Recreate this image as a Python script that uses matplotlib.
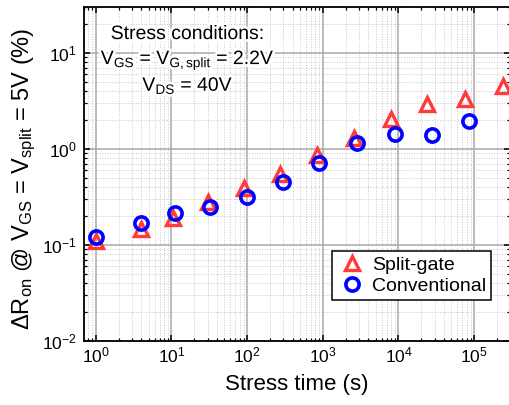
import matplotlib
matplotlib.use("Agg")
import matplotlib.pyplot as plt
import matplotlib.patheffects as pe
from matplotlib.ticker import LogLocator, NullFormatter

plt.rcParams['font.family'] = ['Liberation Sans', 'DejaVu Sans']
plt.rcParams['mathtext.fontset'] = 'custom'
plt.rcParams['mathtext.rm'] = 'Liberation Sans'
plt.rcParams['mathtext.it'] = 'Liberation Sans:italic'
plt.rcParams['mathtext.default'] = 'regular'

# Data
split_time = [1, 4, 10.5, 30, 90, 270, 850, 2600, 8000, 24000, 76000, 240000]
split_ron = [0.11, 0.147, 0.19, 0.28, 0.39, 0.55, 0.86, 1.31, 2.04, 2.92, 3.29, 4.53]
conv_time = [1, 4, 11, 32, 100, 300, 900, 2800, 9000, 28000, 85000]
conv_ron = [0.12, 0.17, 0.214, 0.25, 0.318, 0.45, 0.72, 1.14, 1.42, 1.39, 1.93]
series_labels = ["Split-gate", "Conventional"]
xlabel = "Stress time (s)"
ylabel = r"$\Delta$R$_{on}$ @ V$_{GS}$ = V$_{split}$ = 5V (%)"
note_lines = ["Stress conditions:", r"V$_{GS}$ = V$_{G,split}$ = 2.2V", r"V$_{DS}$ = 40V"]

W, H = 509, 405
fig = plt.figure(figsize=(W / 100, H / 100), dpi=100)
ax = fig.add_axes([84 / W, (405 - 341) / H, (510.3 - 84) / W, (341 - 7) / H])
ax.set_xscale('log')
ax.set_yscale('log')
ax.set_xlim(0.7, 3e5)
ax.set_ylim(0.01, 30)

red = '#ff3a3a'
blue = '#0000ff'
ax.plot(split_time, split_ron, linestyle='none', marker='^', markersize=10,
        markerfacecolor='none', markeredgecolor=red, markeredgewidth=2.4,
        label=series_labels[0], zorder=5)
ax.plot(conv_time, conv_ron, linestyle='none', marker='o', markersize=9.5,
        markerfacecolor='none', markeredgecolor=blue, markeredgewidth=2.6,
        label=series_labels[1], zorder=6)

ax.xaxis.set_major_locator(LogLocator(base=10, numticks=20))
ax.xaxis.set_minor_locator(LogLocator(base=10, subs=range(2, 10), numticks=20))
ax.yaxis.set_major_locator(LogLocator(base=10, numticks=20))
ax.yaxis.set_minor_locator(LogLocator(base=10, subs=range(2, 10), numticks=20))
ax.xaxis.set_minor_formatter(NullFormatter())
ax.yaxis.set_minor_formatter(NullFormatter())

ax.grid(True, which='major', color='#a8a8a8', linewidth=1.1, linestyle='-', zorder=0)
ax.grid(True, which='minor', color='#c8c8c8', linewidth=0.7, linestyle=':', zorder=0)
ax.set_axisbelow(True)

ax.tick_params(which='both', direction='in', top=True, right=True, labelsize=12.5)
ax.tick_params(which='major', length=4, width=1.1)
ax.tick_params(which='minor', length=2.5, width=0.9)
ax.tick_params(axis='y', which='major', pad=5)
for s in ax.spines.values():
    s.set_linewidth(1.3)

ax.set_xlabel(xlabel, fontsize=16, labelpad=6)
ax.set_ylabel(ylabel, fontsize=17)
ax.yaxis.set_label_coords(-0.108, 0.485)

ys = [0.904, 0.829, 0.749]
for line, yy in zip(note_lines, ys):
    ax.text(0.244, yy, line, transform=ax.transAxes, ha='center', va='baseline',
            fontsize=14, zorder=4,
            path_effects=[pe.withStroke(linewidth=4, foreground='white')])

leg = ax.legend(loc='lower right', bbox_to_anchor=(0.955, 0.123), borderaxespad=0,
                fontsize=14, frameon=True, fancybox=False, framealpha=1,
                edgecolor='black', handletextpad=0.3, handlelength=1.5,
                borderpad=0.25, labelspacing=0.2)
leg.get_frame().set_linewidth(1.1)
leg.set_zorder(10)

fig.savefig('out.png', dpi=100)
